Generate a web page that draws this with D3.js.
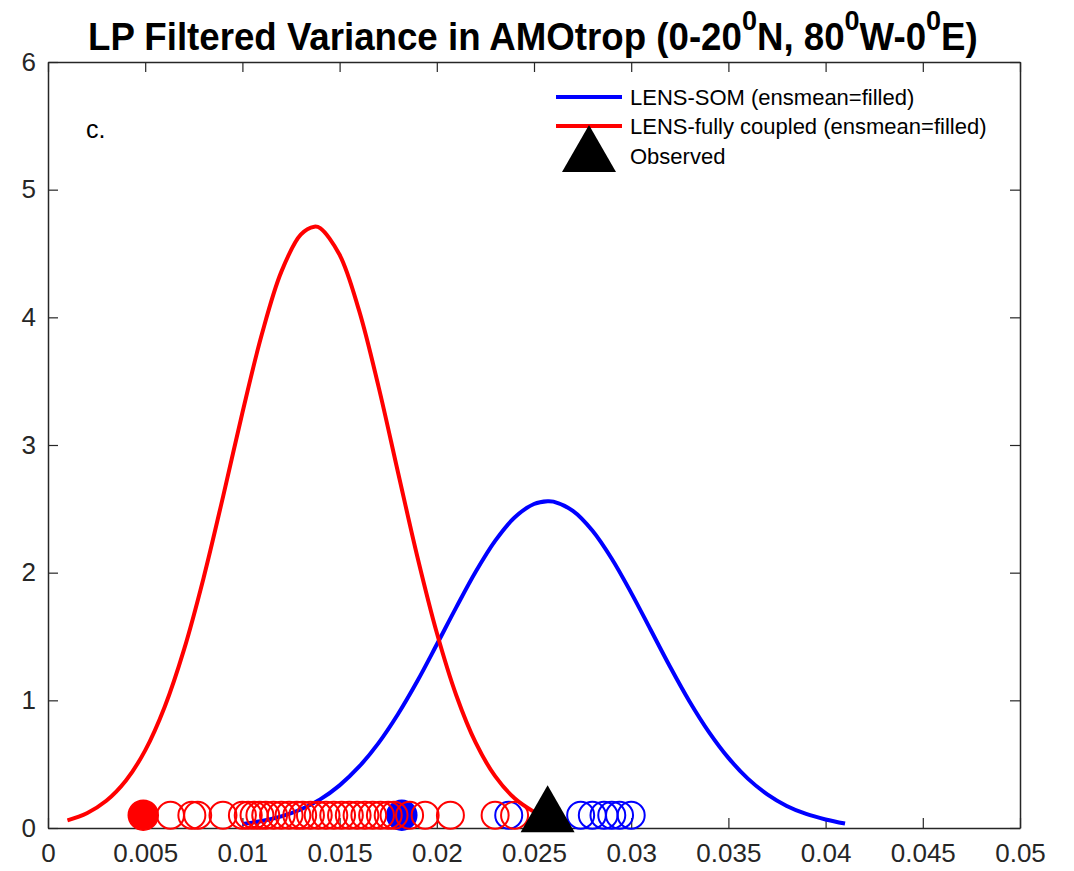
<!DOCTYPE html>
<html><head><meta charset="utf-8">
<script src="https://cdn.jsdelivr.net/npm/d3@7"></script>
<style>body{margin:0;background:#fff;} text{font-family:"Liberation Sans",Arial,Helvetica,sans-serif;}</style>
</head><body><svg id="c" width="1074" height="871"></svg>
<script>
// ---- data ----
const xTicks = [0,0.005,0.01,0.015,0.02,0.025,0.03,0.035,0.04,0.045,0.05];
const xTickLabels = ["0","0.005","0.01","0.015","0.02","0.025","0.03","0.035","0.04","0.045","0.05"];
const yTicks = [0,1,2,3,4,5,6];
const yTickLabels = ["0","1","2","3","4","5","6"];

// fitted PDF curves
const redCurveX = [0.001,0.002,0.003,0.004,0.005,0.006,0.007,0.008,0.009,0.010,0.011,0.012,0.013,0.0137,0.014,0.015,0.016,0.017,0.018,0.019,0.020,0.021,0.022,0.023,0.024,0.025];
const redCurveY = [0.060,0.116,0.213,0.370,0.608,0.948,1.399,1.957,2.592,3.253,3.867,4.356,4.648,4.710,4.699,4.490,4.054,3.459,2.789,2.125,1.529,1.040,0.668,0.406,0.233,0.126];
const blueCurveX = [0.010,0.011,0.012,0.013,0.014,0.015,0.016,0.017,0.018,0.019,0.020,0.021,0.022,0.023,0.024,0.025,0.0257,0.026,0.027,0.028,0.029,0.030,0.031,0.032,0.033,0.034,0.035,0.036,0.037,0.038,0.039,0.040,0.041];
const blueCurveY = [0.032,0.055,0.091,0.145,0.224,0.334,0.480,0.665,0.891,1.151,1.437,1.728,2.007,2.249,2.432,2.538,2.560,2.556,2.484,2.330,2.109,1.842,1.553,1.263,0.991,0.751,0.549,0.387,0.264,0.173,0.110,0.067,0.035];

// ensemble members (open circles) and ensemble means (filled)
const redMembers = [0.0063,0.0074,0.0077,0.0090,0.0100,0.0103,0.0106,0.0109,0.0112,0.0116,0.0120,0.0124,0.0128,0.0131,0.0135,0.0139,0.0143,0.0147,0.0151,0.0155,0.0159,0.0163,0.0167,0.0171,0.0175,0.0178,0.0186,0.0194,0.0207,0.0230,0.0240];
const redEnsMean = [0.0049];
const blueMembers = [0.0237,0.0274,0.0280,0.0286,0.0290,0.0294,0.0300];
const blueEnsMean = [0.0182];
const observed = [0.0257];
const markerLevel = 0.1;

const legendLabels = ["LENS-SOM (ensmean=filled)","LENS-fully coupled (ensmean=filled)","Observed"];
const panelLabel = "c.";

// ---- layout ----
const svg = d3.select("#c");
const W = 1074, H = 871;
const m = {left:48, right:1020, top:62, bottom:828};
const x = d3.scaleLinear().domain([0,0.05]).range([m.left, m.right]);
const y = d3.scaleLinear().domain([0,6]).range([m.bottom, m.top]);
const axisColor = "#262626";
const RED = "#ff0000", BLUE = "#0000ff";

svg.append("rect").attr("width",W).attr("height",H).attr("fill","#fff");

// axes
const tickLen = 10;
const gx = svg.append("g").attr("transform",`translate(0,${m.bottom})`)
  .call(d3.axisBottom(x).tickValues(xTicks).tickFormat((d,i)=>xTickLabels[i]).tickSizeInner(-tickLen).tickSizeOuter(0).tickPadding(16));
const gxt = svg.append("g").attr("transform",`translate(0,${m.top})`)
  .call(d3.axisTop(x).tickValues(xTicks).tickFormat("").tickSizeInner(-tickLen).tickSizeOuter(0));
const gy = svg.append("g").attr("transform",`translate(${m.left},0)`)
  .call(d3.axisLeft(y).tickValues(yTicks).tickFormat((d,i)=>yTickLabels[i]).tickSizeInner(-tickLen).tickSizeOuter(0).tickPadding(12));
const gyr = svg.append("g").attr("transform",`translate(${m.right},0)`)
  .call(d3.axisRight(y).tickValues(yTicks).tickFormat("").tickSizeInner(-tickLen).tickSizeOuter(0));
[gx,gxt,gy,gyr].forEach(g=>{
  g.select(".domain").attr("stroke",axisColor).attr("stroke-width",1.5);
  g.selectAll(".tick line").attr("stroke",axisColor).attr("stroke-width",1.2);
  g.selectAll(".tick text").attr("fill",axisColor).attr("font-size",26).attr("font-family","Liberation Sans, Arial, sans-serif");
});

// curves
const line = d3.line().x(d=>x(d[0])).y(d=>y(d[1])).curve(d3.curveCatmullRom);
const plot = svg.append("g");
plot.append("path").datum(d3.zip(blueCurveX, blueCurveY)).attr("d",line)
  .attr("fill","none").attr("stroke",BLUE).attr("stroke-width",4);
// blue markers
plot.selectAll(".bm").data(blueEnsMean).join("circle").attr("class","bm").attr("cx",d=>x(d)).attr("cy",y(markerLevel)).attr("r",15)
  .attr("fill",BLUE).attr("stroke",BLUE).attr("stroke-width",1.5);
plot.selectAll(".bo").data(blueMembers).join("circle").attr("class","bo").attr("cx",d=>x(d)).attr("cy",y(markerLevel)).attr("r",13.5)
  .attr("fill","none").attr("stroke",BLUE).attr("stroke-width",2);
plot.append("path").datum(d3.zip(redCurveX, redCurveY)).attr("d",line)
  .attr("fill","none").attr("stroke",RED).attr("stroke-width",4);
plot.selectAll(".rm").data(redEnsMean).join("circle").attr("class","rm").attr("cx",d=>x(d)).attr("cy",y(markerLevel)).attr("r",15)
  .attr("fill",RED).attr("stroke",RED).attr("stroke-width",1.5);
plot.selectAll(".ro").data(redMembers).join("circle").attr("class","ro").attr("cx",d=>x(d)).attr("cy",y(markerLevel)).attr("r",13.5)
  .attr("fill","none").attr("stroke",RED).attr("stroke-width",2);
const tri = "M0,-30L27,17L-27,17Z";
plot.selectAll(".ob").data(observed).join("path").attr("class","ob")
  .attr("transform",d=>`translate(${x(d)},${y(markerLevel)})`).attr("d",tri).attr("fill","#000");

// panel label
svg.append("text").attr("x",86).attr("y",138).attr("font-size",25).attr("fill","#000").text(panelLabel);

// legend
const lg = svg.append("g");
const lgRows = [{c:BLUE,y:97,t:legendLabels[0]},{c:RED,y:126,t:legendLabels[1]}];
lgRows.forEach(r=>{
  lg.append("line").attr("x1",556).attr("x2",622).attr("y1",r.y).attr("y2",r.y).attr("stroke",r.c).attr("stroke-width",4);
  lg.append("text").attr("x",630).attr("y",r.y).attr("dy","0.35em").attr("font-size",22).attr("fill","#000").text(r.t);
});
lg.append("path").attr("transform","translate(589,155)").attr("d",tri).attr("fill","#000");
lg.append("text").attr("x",630).attr("y",156).attr("dy","0.35em").attr("font-size",22).attr("fill","#000").text(legendLabels[2]);

// title
const tg = svg.append("g");
const tt = tg.append("text").attr("x",0).attr("y",50).attr("font-size",38).attr("font-weight","bold").attr("fill","#000");
const parts = [["LP Filtered Variance in AMOtrop (0-20",false],["0",true],["N, 80",false],["0",true],["W-0",false],["0",true],["E)",false]];
parts.forEach(([s,sup])=>{
  tt.append("tspan").attr("font-size",sup?28:38).attr("dy",sup?-20:(s.startsWith("LP")?0:20)).text(s);
});
const bb = tt.node().getBBox();
const targetW = 890, cx = 533;
const sx = targetW / bb.width;
tg.attr("transform",`translate(${cx - targetW/2 - bb.x*sx},0) scale(${sx},1)`);
</script>
</body></html>
